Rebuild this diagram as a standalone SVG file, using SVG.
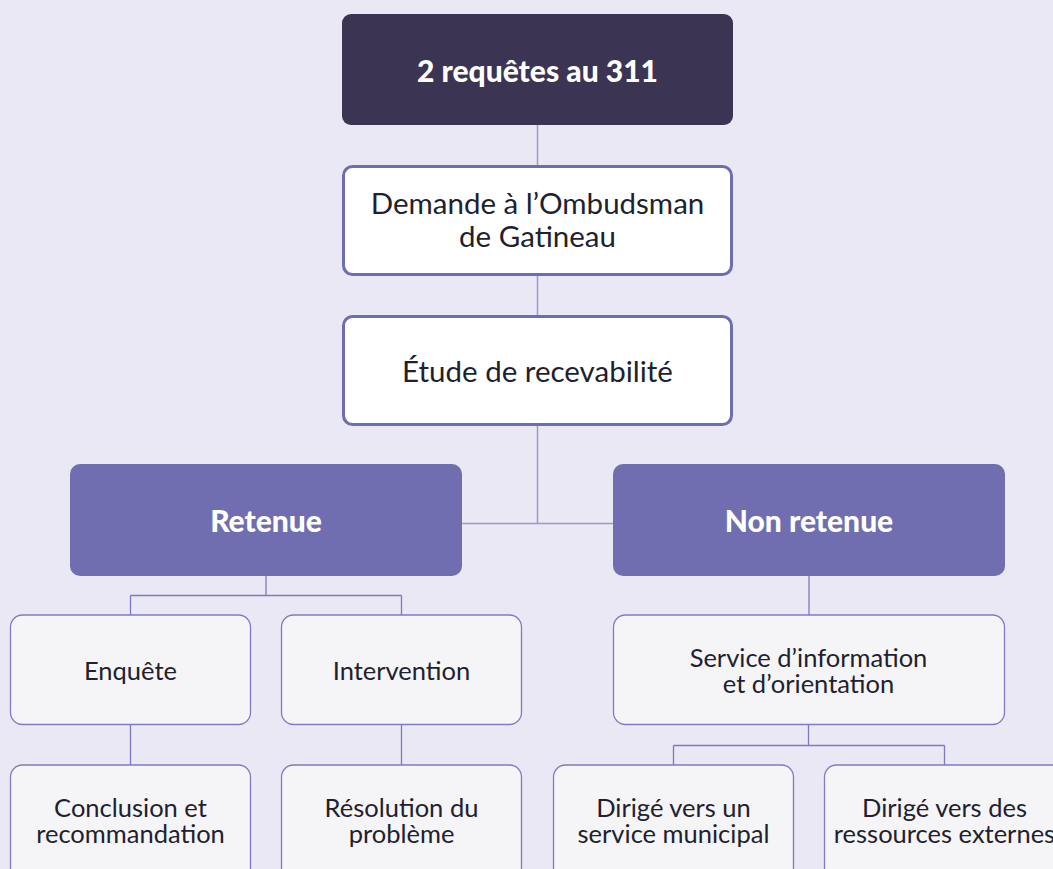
<svg xmlns="http://www.w3.org/2000/svg" width="1053" height="869" viewBox="0 0 1053 869">
<style>
.bg{fill:#EAE8F5}
.dark{fill:#3B3452}
.head{fill:#706EB1}
.main{fill:#FFFFFF;stroke:#6F6DB1;stroke-width:3}
.leaf{fill:#F5F4F6;stroke:#7F7CC0;stroke-width:1.3}
.conn{fill:none;stroke:#9C98CF;stroke-width:1.5}
.conn2{fill:none;stroke:#7C79BE;stroke-width:1.3}
.tb{font-family:Lato,"Liberation Sans",sans-serif;font-weight:900;fill:#FFFFFF;text-anchor:middle;font-size:30px}
.tr{font-family:Lato,"Liberation Sans",sans-serif;font-weight:400;fill:#221F2E;text-anchor:middle;font-size:25.5px}
.tm{font-family:Lato,"Liberation Sans",sans-serif;font-weight:400;fill:#221F2E;text-anchor:middle;font-size:29.5px}
</style>
<rect class="bg" x="0" y="0" width="1053" height="869"/>
<g id="connectors">
<path class="conn" d="M537.5 125V166"/>
<path class="conn" d="M537.5 275V316"/>
<path class="conn" d="M537.5 425V523.5M462 523.5H613"/>
<path class="conn2" d="M266 576V595.5M130.5 595.5H401.5M130.5 595.5V615M401.5 595.5V615"/>
<path class="conn2" d="M809 576V615"/>
<path class="conn2" d="M130.5 724V765M401.5 724V765"/>
<path class="conn2" d="M808.5 724V745.5M673.5 745.5H944.5M673.5 745.5V765M944.5 745.5V765"/>
</g>
<g id="n-requetes">
<rect class="dark" x="342" y="14" width="391" height="111" rx="9"/>
<text class="tb" x="537.5" y="82">2 requêtes au 311</text>
</g>
<g id="n-demande">
<rect class="main" x="343.5" y="166.5" width="388" height="108" rx="9"/>
<text class="tm" x="537.5" y="214">Demande à l’Ombudsman</text>
<text class="tm" x="537.5" y="247">de Gatineau</text>
</g>
<g id="n-etude">
<rect class="main" x="343.5" y="316.5" width="388" height="108" rx="9"/>
<text class="tm" x="537.5" y="382">Étude de recevabilité</text>
</g>
<g id="n-retenue">
<rect class="head" x="70" y="464" width="392" height="112" rx="10"/>
<text class="tb" x="266" y="532">Retenue</text>
</g>
<g id="n-nonretenue">
<rect class="head" x="613" y="464" width="392" height="112" rx="10"/>
<text class="tb" x="809" y="532">Non retenue</text>
</g>
<g id="n-enquete">
<rect class="leaf" x="10.5" y="615" width="240" height="109.5" rx="12"/>
<text class="tr" x="130.5" y="680">Enquête</text>
</g>
<g id="n-intervention">
<rect class="leaf" x="281.5" y="615" width="240" height="109.5" rx="12"/>
<text class="tr" x="401.5" y="680">Intervention</text>
</g>
<g id="n-service">
<rect class="leaf" x="613.5" y="615" width="391" height="109.5" rx="12"/>
<text class="tr" x="808.5" y="666.5">Service d’information</text>
<text class="tr" x="808.5" y="692.5">et d’orientation</text>
</g>
<g id="n-conclusion">
<rect class="leaf" x="10.5" y="765" width="240" height="115" rx="12"/>
<text class="tr" x="130.5" y="816.5">Conclusion et</text>
<text class="tr" x="130.5" y="842.5">recommandation</text>
</g>
<g id="n-resolution">
<rect class="leaf" x="281.5" y="765" width="240" height="115" rx="12"/>
<text class="tr" x="401.5" y="816.5">Résolution du</text>
<text class="tr" x="401.5" y="842.5">problème</text>
</g>
<g id="n-municipal">
<rect class="leaf" x="553.5" y="765" width="240" height="115" rx="12"/>
<text class="tr" x="673.5" y="816.5">Dirigé vers un</text>
<text class="tr" x="673.5" y="842.5">service municipal</text>
</g>
<g id="n-externes">
<rect class="leaf" x="824.5" y="765" width="240" height="115" rx="12"/>
<text class="tr" x="944.5" y="816.5">Dirigé vers des</text>
<text class="tr" x="944.5" y="842.5">ressources externes</text>
</g>
</svg>
